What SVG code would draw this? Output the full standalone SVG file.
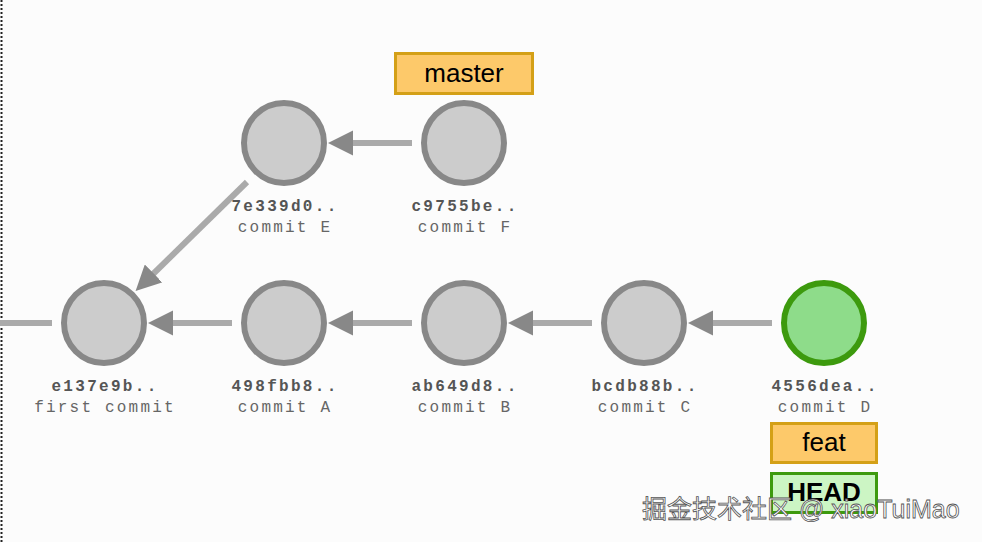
<svg xmlns="http://www.w3.org/2000/svg" width="982" height="542" viewBox="0 0 982 542">
<defs>
<marker id="ah" viewBox="0 0 10 10" refX="2" refY="5" markerWidth="4.2" markerHeight="4.2" orient="auto" markerUnits="strokeWidth"><path d="M0,0L10,5L0,10z" fill="#888"/></marker>
<style>
.c{fill:#ccc;stroke:#888;stroke-width:6}
.h{font:bold 16px "Liberation Mono",monospace;fill:#555;text-anchor:middle;letter-spacing:2.3px}
.m{font:16px "Liberation Mono",monospace;fill:#666;text-anchor:middle;letter-spacing:2.2px}
.e{stroke:#aaa;stroke-width:6;fill:none}
.br{fill:#fdc96a;stroke:#d4a017;stroke-width:3}
.bt{font:26px "Liberation Sans",Arial,sans-serif;fill:#000;text-anchor:middle}
</style>
</defs>
<rect width="982" height="542" fill="#fcfcfc"/>
<line x1="1.5" y1="0" x2="1.5" y2="542" stroke="#222" stroke-width="2" stroke-dasharray="2,2"/>
<g id="connectors">
<line class="e" x1="0" y1="323" x2="52" y2="323"/>
<line class="e" x1="232" y1="323" x2="168" y2="323" marker-end="url(#ah)"/>
<line class="e" x1="412" y1="323" x2="348" y2="323" marker-end="url(#ah)"/>
<line class="e" x1="592" y1="323" x2="528" y2="323" marker-end="url(#ah)"/>
<line class="e" x1="772" y1="323" x2="708" y2="323" marker-end="url(#ah)"/>
<line class="e" x1="412" y1="143" x2="348" y2="143" marker-end="url(#ah)"/>
<line class="e" x1="247" y1="182" x2="150" y2="277" marker-end="url(#ah)"/>
</g>
<g id="n0"><circle class="c" cx="104" cy="323" r="40"/><text class="h" x="105" y="391">e137e9b..</text><text class="m" x="105" y="412">first commit</text></g>
<g id="nA"><circle class="c" cx="284" cy="323" r="40"/><text class="h" x="285" y="391">498fbb8..</text><text class="m" x="285" y="412">commit A</text></g>
<g id="nB"><circle class="c" cx="464" cy="323" r="40"/><text class="h" x="465" y="391">ab649d8..</text><text class="m" x="465" y="412">commit B</text></g>
<g id="nC"><circle class="c" cx="644" cy="323" r="40"/><text class="h" x="645" y="391">bcdb88b..</text><text class="m" x="645" y="412">commit C</text></g>
<g id="nD"><circle cx="824" cy="323" r="40" fill="#8edc8a" stroke="#3d9a0e" stroke-width="6"/><text class="h" x="825" y="391">4556dea..</text><text class="m" x="825" y="412">commit D</text></g>
<g id="nE"><circle class="c" cx="284" cy="143" r="40"/><text class="h" x="285" y="211">7e339d0..</text><text class="m" x="285" y="232">commit E</text></g>
<g id="nF"><circle class="c" cx="464" cy="143" r="40"/><text class="h" x="465" y="211">c9755be..</text><text class="m" x="465" y="232">commit F</text></g>
<g id="master"><rect class="br" x="395.5" y="53.5" width="137" height="40"/><text class="bt" x="464" y="82">master</text></g>
<g id="feat"><rect class="br" x="771.5" y="423.5" width="105" height="39"/><text class="bt" x="824" y="451">feat</text></g>
<g id="head"><rect x="771.5" y="473.5" width="105" height="39" fill="#ccf5c4" stroke="#3d9a0e" stroke-width="3"/><text class="bt" x="824" y="501" style="font-weight:bold">HEAD</text></g>
<text x="642" y="518" font-family="'Liberation Sans','Noto Sans CJK SC',sans-serif" font-size="25" fill="#fff" stroke="#555" stroke-width="0.8">掘金技术社区 @ xiaoTuiMao</text>
</svg>
